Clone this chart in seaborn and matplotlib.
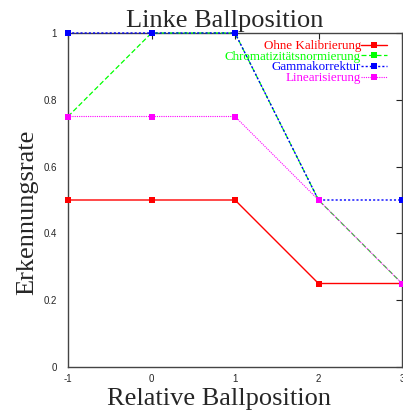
import matplotlib
matplotlib.use("Agg")
import matplotlib.pyplot as plt
import seaborn as sns
import pandas as pd

positions = [-1, 0, 1, 2, 3]
ohne = [0.5, 0.5, 0.5, 0.25, 0.25]
chroma = [0.75, 1.0, 1.0, 0.5, 0.25]
gamma = [1.0, 1.0, 1.0, 0.5, 0.5]
linear = [0.75, 0.75, 0.75, 0.5, 0.25]
names = ["Ohne Kalibrierung", "Chromatizitätsnormierung", "Gammakorrektur", "Linearisierung"]
xticks = [-1, 0, 1, 2, 3]
xticklabels = ["-1", "0", "1", "2", "3"]
yticks = [0, 0.2, 0.4, 0.6, 0.8, 1.0]
yticklabels = ["0", "0.2", "0.4", "0.6", "0.8", "1"]

sns.set_style("white")
plt.rcParams['font.family'] = ['Liberation Serif', 'DejaVu Serif']

fig = plt.figure(figsize=(4.03, 4.16), dpi=100)
ax = fig.add_axes([68/403, 49/416, 334/403, 334/416])

series = [ohne, chroma, gamma, linear]
colors = ["#ff0000", "#00ff00", "#0000ff", "#ff00ff"]
styles = ["-", (0, (4, 2)), (0, (1.5, 1.5)), (0, (1, 1))]
widths = [1.0, 0.9, 1.0, 0.8]

for name, vals, c, ls, lw in zip(names, series, colors, styles, widths):
    df = pd.DataFrame({"x": positions, "y": vals})
    sns.lineplot(data=df, x="x", y="y", ax=ax, color=c, linestyle=ls, linewidth=lw,
                 marker="s", markersize=5, markeredgewidth=0, label=name, clip_on=False,
                 zorder=3)

ax.set_xlim(-1, 3)
ax.set_ylim(0, 1)
ax.set_xticks(xticks)
ax.set_xticklabels(xticklabels, family=['Liberation Sans'], fontsize=7)
ax.set_yticks(yticks)
ax.set_yticklabels(yticklabels, family=['Liberation Sans'], fontsize=7)
ax.tick_params(direction="in", length=4, width=0.8, top=True, right=True, color="#222222")
ax.tick_params(axis="y", pad=8)
ax.tick_params(axis="x", pad=5)
for s in ax.spines.values():
    s.set_color("#444444")
    s.set_linewidth(1.0)

ax.set_title("Linke Ballposition", fontsize=19, pad=4.5, x=(225 - 68) / 334)
ax.set_xlabel("Relative Ballposition", fontsize=19, labelpad=0)
ax.xaxis.set_label_coords((219 - 68) / 334, -0.062)
ax.xaxis.label.set_va("top")
ax.set_ylabel("Erkennungsrate", fontsize=19, labelpad=4)
ax.yaxis.set_label_coords(-0.09, (367 - 212) / 334)

leg = ax.legend(loc="upper right", frameon=False, markerfirst=False, fontsize=9.4,
                handlelength=2.0, handleheight=0.5, handletextpad=0.0, labelspacing=-0.1,
                borderaxespad=0.0, borderpad=0.3, bbox_to_anchor=(1.0 - 11/334, 1.0 - 3/334))
for t, c in zip(leg.get_texts(), colors):
    t.set_color(c)
    t.set_ha("right")
leg._legend_box.align = "right"

fig.savefig("out.png", dpi=100)
